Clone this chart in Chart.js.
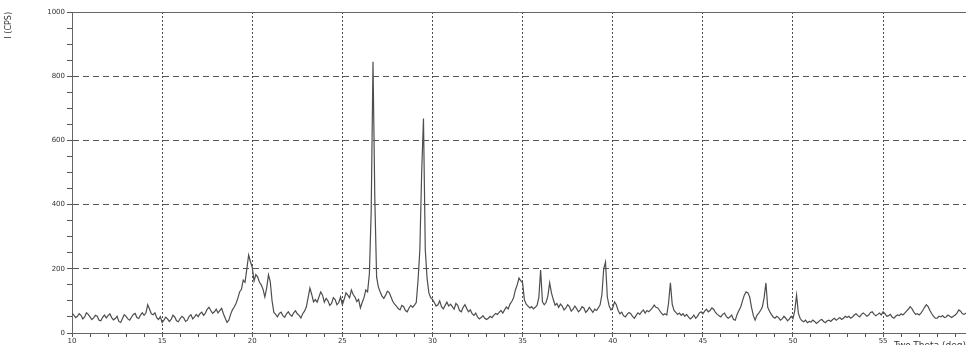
<!DOCTYPE html>
<html>
<head>
<meta charset="utf-8">
<script src="https://cdn.jsdelivr.net/npm/chart.js@4.4.1/dist/chart.umd.min.js"></script>
<style>
  html, body { margin: 0; padding: 0; background: #ffffff; }
  canvas { display: block; }
</style>
</head>
<body>
<canvas id="xrd" width="966" height="345"></canvas>
<script>
// Step scan: start angle and step width (degrees two-theta)
const scanStart = 10.0;
const scanStep = 0.1;

// Measured intensity (CPS), one value per step, 10.0 .. 59.6 deg
const intensity = [
  62, 56, 48, 52, 60, 55, 44, 50, 63, 58,        // 10
  50, 42, 47, 55, 52, 40, 38, 49, 56, 47,        // 11
  54, 60, 48, 41, 45, 52, 36, 33, 45, 57,        // 12
  52, 44, 40, 49, 58, 61, 48, 45, 56, 63,        // 13
  55, 62, 88, 75, 60, 57, 63, 48, 42, 51,        // 14
  33, 40, 49, 44, 36, 42, 55, 50, 38, 35,        // 15
  45, 52, 47, 36, 40, 52, 57, 44, 50, 58,        // 16
  51, 60, 65, 55, 62, 74, 80, 70, 61, 66,        // 17
  74, 63, 70, 77, 60, 46, 33, 40, 58, 72,        // 18
  81, 92, 108, 128, 136, 165, 158, 200, 243, 222, // 19
  205, 162, 182, 174, 158, 150, 136, 112, 140, 181, // 20
  160, 100, 64, 58, 50, 61, 65, 54, 49, 60,      // 21
  66, 57, 52, 63, 69, 60, 55, 47, 60, 68,        // 22
  81, 110, 140, 120, 97, 104, 96, 112, 128, 118, // 23
  96, 108, 100, 86, 92, 110, 104, 88, 95, 112,   // 24
  88, 105, 125, 118, 110, 134, 120, 112, 98, 105, // 25
  78, 95, 110, 134, 128, 185, 380, 845, 420, 174, // 26
  143, 128, 115, 108, 118, 130, 126, 112, 98, 90, // 27
  84, 76, 72, 86, 82, 70, 66, 78, 86, 80,        // 28
  87, 95, 165, 260, 500, 668, 260, 170, 125, 110, // 29
  105, 95, 84, 88, 100, 82, 75, 86, 96, 84,      // 30
  90, 82, 74, 92, 86, 70, 66, 80, 88, 76,        // 31
  66, 72, 60, 55, 62, 50, 44, 48, 54, 46,        // 32
  42, 46, 52, 48, 55, 61, 58, 64, 70, 62,        // 33
  72, 81, 75, 90, 98, 110, 134, 150, 171, 162,   // 34
  156, 103, 90, 84, 78, 82, 75, 80, 86, 110,     // 35
  196, 97, 88, 95, 115, 156, 125, 105, 87, 92,   // 36
  80, 90, 84, 72, 78, 88, 82, 68, 74, 84,        // 37
  76, 66, 72, 82, 78, 64, 70, 80, 72, 64,        // 38
  74, 70, 78, 88, 120, 200, 221, 112, 85, 72,    // 39
  78, 97, 88, 70, 60, 65, 54, 50, 58, 64,        // 40
  60, 52, 46, 55, 63, 58, 66, 72, 62, 70,        // 41
  66, 72, 78, 87, 80, 78, 70, 62, 56, 60,        // 42
  56, 95, 156, 90, 70, 64, 58, 62, 55, 60,       // 43
  52, 58, 50, 44, 48, 56, 46, 52, 62, 66,        // 44
  60, 68, 74, 66, 70, 78, 74, 64, 58, 54,        // 45
  50, 58, 62, 52, 46, 50, 56, 42, 40, 58,        // 46
  70, 81, 100, 118, 128, 125, 112, 80, 55, 40,   // 47
  55, 62, 70, 81, 110, 156, 80, 68, 58, 50,      // 48
  46, 52, 48, 40, 44, 52, 46, 38, 44, 52,        // 49
  45, 70, 118, 62, 45, 38, 35, 40, 32, 36,       // 50
  34, 40, 36, 30, 34, 40, 42, 36, 32, 38,        // 51
  40, 36, 42, 46, 40, 44, 48, 42, 46, 52,        // 52
  48, 52, 46, 50, 56, 60, 54, 50, 58, 62,        // 53
  58, 52, 56, 64, 66, 58, 54, 58, 62, 56,        // 54
  66, 60, 52, 54, 58, 50, 46, 52, 56, 54,        // 55
  60, 56, 62, 68, 74, 82, 76, 66, 58, 60,        // 56
  56, 62, 70, 80, 88, 82, 70, 60, 52, 46,        // 57
  46, 52, 50, 54, 48, 50, 56, 52, 48, 52,        // 58
  56, 62, 72, 68, 60, 58, 62                     // 59
];

// Axis ranges and labelled tick intervals
const xMin = 10, xMax = 59.6, xMinorStep = 1, xMajorStep = 5;
const yMin = 0, yMax = 1000, yMinorStep = 50, yMajorStep = 200;
const xTitle = 'Two-Theta (deg)';
const yTitle = 'I (CPS)';

const points = intensity.map((v, i) => ({
  x: +(scanStart + i * scanStep).toFixed(1),
  y: v
}));

const NONE = 'rgba(0,0,0,0)';
const isMult = (v, m) => Math.abs(v / m - Math.round(v / m)) < 1e-6;

new Chart(document.getElementById('xrd'), {
  type: 'line',
  data: {
    datasets: [{
      data: points,
      borderColor: '#4e4e4e',
      borderWidth: 1.2,
      pointRadius: 0,
      tension: 0,
      fill: false
    }]
  },
  options: {
    responsive: false,
    devicePixelRatio: 1,
    animation: false,
    events: [],
    layout: { padding: { top: 12, right: 0, bottom: 0, left: 0 } },
    plugins: { legend: { display: false }, tooltip: { enabled: false } },
    scales: {
      x: {
        type: 'linear',
        min: xMin,
        max: xMax,
        afterFit: s => { s.height = 12; },
        ticks: {
          stepSize: xMinorStep,
          autoSkip: false,
          includeBounds: false,
          maxRotation: 0,
          padding: 0,
          color: '#333',
          font: { family: 'DejaVu Sans', size: 7 },
          callback: v => isMult(v, xMajorStep) ? String(v) : ''
        },
        grid: {
          color: c => (c.tick && isMult(c.tick.value, xMajorStep) && c.tick.value !== xMin) ? '#4a4a4a' : NONE,
          lineWidth: 1,
          tickLength: 4,
          tickColor: '#555'
        },
        border: { display: true, color: '#666', width: 1, dash: [2, 2] },
        title: {
          display: true,
          text: xTitle,
          align: 'end',
          color: '#333',
          font: { family: 'DejaVu Sans', size: 9 },
          padding: { top: 0, bottom: -6 }
        }
      },
      y: {
        min: yMin,
        max: yMax,
        afterFit: s => { s.width = 72; },
        ticks: {
          stepSize: yMinorStep,
          autoSkip: false,
          padding: 2,
          color: '#333',
          font: { family: 'DejaVu Sans', size: 7 },
          callback: v => isMult(v, yMajorStep) ? String(v) : ''
        },
        grid: {
          color: c => (c.tick && isMult(c.tick.value, yMajorStep) && c.tick.value !== yMin) ? (c.tick.value === yMax ? '#666' : '#555') : NONE,
          lineWidth: 1,
          tickLength: 5,
          tickColor: '#555'
        },
        border: {
          display: true,
          color: '#666',
          width: 1,
          dash: c => (c.tick && c.tick.value === yMax) ? [] : [6, 4]
        },
        title: {
          display: true,
          text: yTitle,
          align: 'end',
          color: '#333',
          font: { family: 'DejaVu Sans', size: 8 },
          padding: { top: 4, bottom: 0 }
        }
      }
    }
  }
});
</script>
</body>
</html>
